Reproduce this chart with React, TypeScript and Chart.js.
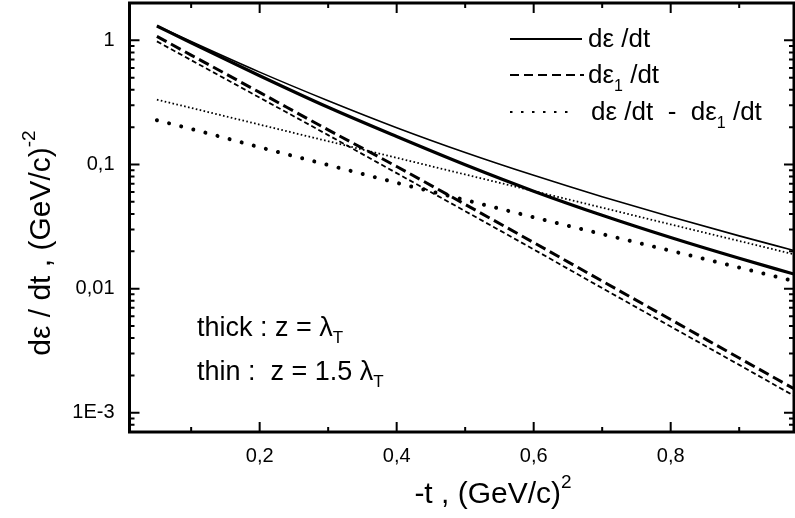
import { useEffect, useRef } from "react";
import { Chart, registerables } from "chart.js";
Chart.register(...registerables);

// -t values, (GeV/c)^2
const tValues = [0.05, 0.1, 0.2, 0.3, 0.4, 0.5, 0.6, 0.7, 0.8, 0.9, 0.98];
// thick: z = lambda_T
const totalThick = [1.304, 0.955, 0.519, 0.289, 0.168, 0.0995, 0.061, 0.039, 0.0258, 0.01755, 0.0131];
const firstThick = [1.077, 0.761, 0.381, 0.19, 0.0964, 0.0477, 0.0235, 0.0115, 0.00564, 0.00276, 0.00156];
const diffThick = [0.227, 0.1935, 0.1378, 0.0991, 0.0712, 0.0518, 0.0376, 0.0275, 0.0202, 0.0148, 0.0115];
// thin: z = 1.5 lambda_T
const totalThin = [1.315, 0.979, 0.555, 0.3265, 0.198, 0.125, 0.0818, 0.055, 0.0379, 0.0266, 0.0203];
const firstThin = [0.982, 0.693, 0.3456, 0.1725, 0.0852, 0.0421, 0.0207, 0.0101, 0.00495, 0.00243, 0.00137];
const diffThin = [0.333, 0.2856, 0.2096, 0.154, 0.1132, 0.0831, 0.0611, 0.0449, 0.0329, 0.0242, 0.0189];

const yLabels: Record<string, string> = { "1": "1", "0.1": "0,1", "0.01": "0,01", "0.001": "1E-3" };
const xLabelValues = [0.2, 0.4, 0.6, 0.8];
const xTickValues = [0.1, 0.2, 0.3, 0.4, 0.5, 0.6, 0.7, 0.8, 0.9];

const FONT = "'Liberation Sans', Arial, Helvetica, sans-serif";

type Run = { text: string; size: number; dy?: number };

function runsWidth(ctx: CanvasRenderingContext2D, runs: Run[]) {
  let w = 0;
  for (const r of runs) {
    ctx.font = `${r.size}px ${FONT}`;
    w += ctx.measureText(r.text).width;
  }
  return w;
}
function drawRuns(ctx: CanvasRenderingContext2D, runs: Run[], x: number, y: number) {
  let cx = x;
  for (const r of runs) {
    ctx.font = `${r.size}px ${FONT}`;
    ctx.fillText(r.text, cx, y + (r.dy || 0));
    cx += ctx.measureText(r.text).width;
  }
}

const decorPlugin = {
  id: "decor",
  afterDraw(chart: any) {
    const ctx: CanvasRenderingContext2D = chart.ctx;
    const { left, right, top, bottom } = chart.chartArea;
    const xs = chart.scales.x;
    const ys = chart.scales.y;
    ctx.save();
    ctx.strokeStyle = "#000";
    ctx.fillStyle = "#000";
    ctx.lineCap = "butt";
    ctx.setLineDash([]);
    // ticks
    ctx.lineWidth = 2;
    for (const v of xTickValues) {
      const px = xs.getPixelForValue(v);
      const len = xLabelValues.some((m) => Math.abs(m - v) < 1e-6) ? 10 : 5;
      ctx.beginPath();
      ctx.moveTo(px, bottom);
      ctx.lineTo(px, bottom - len);
      ctx.moveTo(px, top);
      ctx.lineTo(px, top + len);
      ctx.stroke();
    }
    for (let e = -4; e <= 0; e++) {
      for (let k = 1; k <= 9; k++) {
        const v = k * Math.pow(10, e);
        if (v < ys.min || v > ys.max) continue;
        const py = ys.getPixelForValue(v);
        const len = k === 1 ? 10 : 5;
        ctx.beginPath();
        ctx.moveTo(left, py);
        ctx.lineTo(left + len, py);
        ctx.moveTo(right, py);
        ctx.lineTo(right - len, py);
        ctx.stroke();
      }
    }
    // frame
    ctx.lineWidth = 3;
    ctx.strokeRect(left, top, right - left, bottom - top);

    ctx.textBaseline = "alphabetic";
    ctx.textAlign = "left";
    // x title
    const xt: Run[] = [
      { text: "-t , (GeV/c)", size: 30 },
      { text: "2", size: 19, dy: -15 },
    ];
    const xw = runsWidth(ctx, xt);
    drawRuns(ctx, xt, 493 - xw / 2, 503);
    // y title
    const yt: Run[] = [
      { text: "dε / dt , (GeV/c)", size: 30 },
      { text: "-2", size: 19, dy: -15 },
    ];
    const yw = runsWidth(ctx, yt);
    ctx.save();
    ctx.translate(50, 243);
    ctx.rotate(-Math.PI / 2);
    drawRuns(ctx, yt, -yw / 2, 0);
    ctx.restore();

    // legend
    const lx0 = 510;
    const lx1 = 582;
    const rows = [39, 75, 112];
    ctx.lineWidth = 2;
    ctx.beginPath();
    ctx.moveTo(lx0, rows[0]);
    ctx.lineTo(lx1, rows[0]);
    ctx.stroke();
    ctx.setLineDash([9, 5]);
    ctx.beginPath();
    ctx.moveTo(lx0, rows[1]);
    ctx.lineTo(lx1 + 2, rows[1]);
    ctx.stroke();
    ctx.setLineDash([2.5, 8.5]);
    ctx.beginPath();
    ctx.moveTo(lx0, rows[2]);
    ctx.lineTo(lx1 - 6, rows[2]);
    ctx.stroke();
    ctx.setLineDash([]);
    const ls = 26;
    const sub: Run = { text: "1", size: 16, dy: 8 };
    drawRuns(ctx, [{ text: "dε /dt", size: ls }], 588, rows[0] + 8);
    drawRuns(ctx, [{ text: "dε", size: ls }, sub, { text: " /dt", size: ls }], 588, rows[1] + 8);
    drawRuns(
      ctx,
      [{ text: "dε /dt  -  dε", size: ls }, sub, { text: " /dt", size: ls }],
      591,
      rows[2] + 8
    );

    // annotation
    const as = 27;
    const subT: Run = { text: "T", size: 17, dy: 7 };
    drawRuns(ctx, [{ text: "thick : z = λ", size: as }, subT], 197, 336);
    drawRuns(ctx, [{ text: "thin :  z = 1.5 λ", size: as }, subT], 197, 380);
    ctx.restore();
  },
};

function toPoints(ys: number[]) {
  return tValues.map((t, i) => ({ x: t, y: ys[i] }));
}

export default function App() {
  const ref = useRef<HTMLCanvasElement | null>(null);
  useEffect(() => {
    document.body.style.margin = "0";
    const canvas = ref.current;
    if (!canvas) return;
    const common = { pointRadius: 0, cubicInterpolationMode: "monotone" as const, borderColor: "#000", fill: false };
    const chart = new Chart(canvas, {
      type: "line",
      data: {
        datasets: [
          { ...common, label: "dε/dt thick", data: toPoints(totalThick), borderWidth: 3.2 },
          { ...common, label: "dε/dt thin", data: toPoints(totalThin), borderWidth: 1.6 },
          { ...common, label: "dε1/dt thick", data: toPoints(firstThick), borderWidth: 3, borderDash: [11, 5] },
          { ...common, label: "dε1/dt thin", data: toPoints(firstThin), borderWidth: 1.8, borderDash: [5, 3] },
          {
            ...common,
            label: "diff thick",
            data: toPoints(diffThick),
            borderWidth: 4,
            borderDash: [0.01, 12.5],
            borderCapStyle: "round",
          },
          {
            ...common,
            label: "diff thin",
            data: toPoints(diffThin),
            borderWidth: 1.8,
            borderDash: [1.6, 2.4],
          },
        ],
      },
      options: {
        responsive: false,
        animation: false,
        events: [],
        layout: { padding: { left: 0, right: 1, top: 3, bottom: 0 } },
        plugins: { legend: { display: false }, tooltip: { enabled: false } },
        scales: {
          x: {
            type: "linear",
            min: 0.01,
            max: 0.98,
            grid: { display: false, drawTicks: false },
            border: { display: false },
            ticks: {
              stepSize: 0.1,
              autoSkip: false,
              maxRotation: 0,
              padding: 12,
              color: "#000",
              font: { family: FONT, size: 20 },
              callback: (v: any) => {
                const n = Number(v);
                const m = xLabelValues.find((q) => Math.abs(q - n) < 1e-6);
                return m !== undefined ? m.toFixed(1).replace(".", ",") : "";
              },
            },
            afterFit: (s: any) => {
              s.height = 86;
              s.paddingLeft = 0;
              s.paddingRight = 0;
            },
          },
          y: {
            type: "logarithmic",
            min: 7e-4,
            max: 2,
            grid: { display: false, drawTicks: false },
            border: { display: false },
            ticks: {
              autoSkip: false,
              padding: 15,
              color: "#000",
              font: { family: FONT, size: 20 },
              callback: (v: any) => {
                const n = Number(v);
                for (const key of Object.keys(yLabels)) {
                  if (Math.abs(n - Number(key)) / Number(key) < 1e-6) return yLabels[key];
                }
                return "";
              },
            },
            afterFit: (s: any) => {
              s.width = 129.5;
              s.paddingTop = 0;
              s.paddingBottom = 0;
            },
          },
        },
      },
      plugins: [decorPlugin],
    });
    return () => chart.destroy();
  }, []);
  return (
    <div style={{ width: 795, height: 518, background: "#fff" }}>
      <canvas ref={ref} width={795} height={518} />
    </div>
  );
}
